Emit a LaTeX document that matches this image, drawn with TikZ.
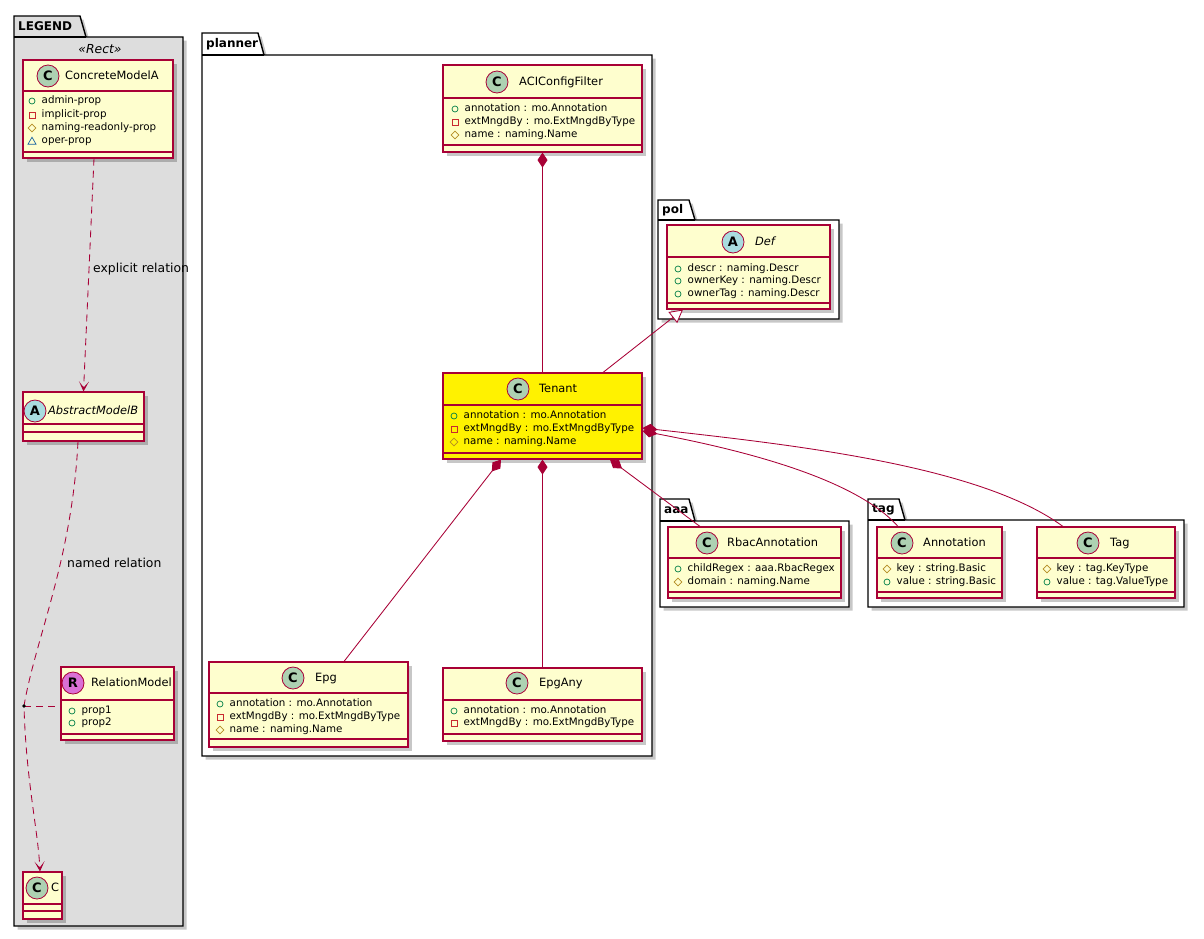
\documentclass[tikz,border=0pt]{standalone}
\usepackage{fontspec}
\setmainfont{DejaVu Sans}
\setmonofont{DejaVu Sans Mono}
\usetikzlibrary{arrows.meta,shadows,fit}
\definecolor{bord}{HTML}{A80036}
\definecolor{clsfill}{HTML}{FEFECE}
\definecolor{cgreen}{HTML}{ADD1B2}
\definecolor{ablue}{HTML}{A9DCDF}
\definecolor{rpink}{HTML}{DA70D6}
\definecolor{pubc}{HTML}{038048}
\definecolor{privc}{HTML}{C82930}
\definecolor{protc}{HTML}{B38D22}
\definecolor{pkgc}{HTML}{1963A0}
\definecolor{legfill}{HTML}{DDDDDD}
\tikzset{
 clsbox/.style={draw=bord, line width=1.1pt, fill=clsfill, inner sep=0pt, rectangle,
   drop shadow={shadow xshift=3.5pt, shadow yshift=-3.5pt, fill=black, opacity=0.22}},
 sepline/.style={draw=bord, line width=1.1pt},
 spot/.style={circle, draw=bord, line width=0.8pt, minimum size=22pt, inner sep=0pt,
   font=\fontsize{13}{13}\selectfont\bfseries},
 cname/.style={anchor=west, inner sep=0pt, text height=8.5pt, text depth=2.5pt,
   font=\fontsize{11.4}{13}\selectfont},
 cnamei/.style={cname, font=\fontsize{11.4}{13}\selectfont\itshape},
 attrtext/.style={anchor=west, inner sep=0pt, text height=7.5pt, text depth=2.2pt,
   font=\fontsize{10.3}{12}\selectfont},
 pkgshape/.style={draw=black, line width=1.4pt,
   drop shadow={shadow xshift=3.5pt, shadow yshift=-3.5pt, fill=black, opacity=0.22}},
 pkglabel/.style={anchor=west, inner sep=0pt, font=\fontsize{12}{14}\selectfont\bfseries},
 rel/.style={draw=bord, line width=0.85pt},
 comp/.style={rel, {Diamond[length=15pt,width=10pt]}-},
 lbl/.style={anchor=west, inner sep=0pt, font=\fontsize{12.4}{14}\selectfont},
 dep/.style={rel, dash pattern=on 7pt off 5pt, -{Stealth[length=10pt,width=10pt,inset=6pt]}},
}
\newcommand{\ucls}[8]{%
  \node[clsbox,#1,fit={(#3,#4) (#5,#6)}] (#2) {};
  \draw[sepline] (#3,#7) -- (#5,#7) (#3,#8) -- (#5,#8);}
\newcommand{\upkg}[9]{%
  \draw[pkgshape, fill=#9] (#2,#5) -- (#2,#3) -- (#4,#3) -- ({#4+6},#5) -- (#6,#5) -- (#6,#7) -- (#2,#7) -- cycle;
  \draw[line width=1.4pt] (#2,#5) -- ({#4+6},#5);
  \node[pkglabel] (#1) at ({#2+4},{(#3+#5)/2}) {#8};}
\newcommand{\uiconpub}[2]{\draw[pubc, line width=0.7pt] (#1,#2) circle (3pt);}
\newcommand{\uiconpriv}[2]{\draw[privc, line width=0.7pt] ({#1-3},{#2-3}) rectangle ({#1+3},{#2+3});}
\newcommand{\uiconprot}[2]{\draw[protc, line width=0.7pt] (#1,{#2-3.8}) -- ({#1+3.8},#2) -- (#1,{#2+3.8}) -- ({#1-3.8},#2) -- cycle;}
\newcommand{\uiconpack}[2]{\draw[pkgc, line width=0.7pt] (#1,{#2-3.8}) -- ({#1+4},{#2+3.2}) -- ({#1-4},{#2+3.2}) -- cycle;}
\newcommand{\uattr}[5]{%
  \csname uicon#1\endcsname{#2}{#3}%
  \node[attrtext] (#4) at ({#2+9.5},#3) {#5};}
\begin{document}
\begin{tikzpicture}[x=1pt,y=-1pt]
\useasboundingbox (0,0) rectangle (1204,938);
% packages
\upkg{legend}{14}{16}{80}{37}{183}{926}{LEGEND}{legfill}
\upkg{planner}{202}{33}{258}{55}{652}{756}{planner}{white}
\upkg{pol}{658}{200}{689}{220}{839}{319}{pol}{white}
\upkg{aaa}{660}{499}{689}{521}{849}{607}{aaa}{white}
\upkg{tagpkg}{868}{499}{899}{520}{1184}{607}{tag}{white}
\node[lbl, anchor=center, font=\fontsize{12.4}{14}\selectfont\itshape] (stereo) at (100,49) {«Rect»};
% legend classes
\ucls{}{conc}{23}{60}{173}{158}{91}{152}
\node[spot, fill=cgreen] (conc-c) at (48,76) {C};
\node[cname] (conc-n) at (65,76) {ConcreteModelA};
\uattr{pub}{32}{101}{conc-a1}{admin-prop}
\uattr{priv}{32}{115}{conc-a2}{implicit-prop}
\uattr{prot}{32}{128}{conc-a3}{naming-readonly-prop}
\uattr{pack}{32}{141}{conc-a4}{oper-prop}
\ucls{}{absb}{23}{392}{144}{441}{424}{432}
\node[spot, fill=ablue] (absb-c) at (35,411) {A};
\node[cnamei] (absb-n) at (48,411) {AbstractModelB};
\ucls{}{relm}{61}{667}{174}{740}{700}{734}
\node[spot, fill=rpink] (relm-c) at (73,683) {R};
\node[cname] (relm-n) at (91,683) {RelationModel};
\uattr{pub}{72}{711}{relm-a1}{prop1}
\uattr{pub}{72}{723}{relm-a2}{prop2}
\ucls{}{cc}{23}{872}{62}{919}{904}{911}
\node[spot, fill=cgreen] (cc-c) at (37,888) {C};
\node[cname] (cc-n) at (51,888) {C};
% planner classes
\ucls{}{aci}{443}{65}{642}{152}{98}{145}
\node[spot, fill=cgreen] (aci-c) at (497,82) {C};
\node[cname] (aci-n) at (519,82) {ACIConfigFilter};
\uattr{pub}{455}{109}{aci-a1}{annotation : mo.Annotation}
\uattr{priv}{455}{122}{aci-a2}{extMngdBy : mo.ExtMngdByType}
\uattr{prot}{455}{135}{aci-a3}{name : naming.Name}
\ucls{fill=yellow}{ten}{443}{373}{642}{459}{405}{453}
\node[spot, fill=cgreen] (ten-c) at (518,389) {C};
\node[cname] (ten-n) at (539,389) {Tenant};
\uattr{pub}{454}{416}{ten-a1}{annotation : mo.Annotation}
\uattr{priv}{454}{429}{ten-a2}{extMngdBy : mo.ExtMngdByType}
\uattr{prot}{454}{442}{ten-a3}{name : naming.Name}
\ucls{}{epg}{209}{662}{408}{747}{693}{739}
\node[spot, fill=cgreen] (epg-c) at (293,678) {C};
\node[cname] (epg-n) at (315,678) {Epg};
\uattr{pub}{220}{704}{epg-a1}{annotation : mo.Annotation}
\uattr{priv}{220}{717}{epg-a2}{extMngdBy : mo.ExtMngdByType}
\uattr{prot}{220}{730}{epg-a3}{name : naming.Name}
\ucls{}{epgany}{443}{668}{642}{741}{700}{734}
\node[spot, fill=cgreen] (epgany-c) at (517,683) {C};
\node[cname] (epgany-n) at (539,683) {EpgAny};
\uattr{pub}{454}{711}{epgany-a1}{annotation : mo.Annotation}
\uattr{priv}{454}{723}{epgany-a2}{extMngdBy : mo.ExtMngdByType}
% pol
\ucls{}{def}{667}{225}{830}{309}{257}{303}
\node[spot, fill=ablue] (def-c) at (733,242) {A};
\node[cnamei] (def-n) at (755,242) {Def};
\uattr{pub}{678}{269}{def-a1}{descr : naming.Descr}
\uattr{pub}{678}{281}{def-a2}{ownerKey : naming.Descr}
\uattr{pub}{678}{294}{def-a3}{ownerTag : naming.Descr}
% aaa
\ucls{}{rbac}{668}{527}{841}{598}{558}{592}
\node[spot, fill=cgreen] (rbac-c) at (707,543) {C};
\node[cname] (rbac-n) at (727,543) {RbacAnnotation};
\uattr{pub}{678}{569}{rbac-a1}{childRegex : aaa.RbacRegex}
\uattr{prot}{678}{582}{rbac-a2}{domain : naming.Name}
% tag
\ucls{}{annot}{877}{527}{1002}{598}{558}{592}
\node[spot, fill=cgreen] (annot-c) at (902,543) {C};
\node[cname] (annot-n) at (923,543) {Annotation};
\uattr{prot}{887}{569}{annot-a1}{key : string.Basic}
\uattr{pub}{887}{582}{annot-a2}{value : string.Basic}
\ucls{}{tagc}{1037}{527}{1175}{598}{558}{592}
\node[spot, fill=cgreen] (tagc-c) at (1088,543) {C};
\node[cname] (tagc-n) at (1110,543) {Tag};
\uattr{prot}{1047}{569}{tagc-a1}{key : tag.KeyType}
\uattr{pub}{1047}{582}{tagc-a2}{value : tag.ValueType}
% connectors
\draw[comp] (aci.south) -- (ten.north);
\draw[rel, -{Triangle[open,length=13pt,width=14pt,fill=white]}] ([xshift=60.5pt]ten.north) -- ([xshift=-65.5pt]def.south);
\draw[comp] ([xshift=-41.5pt]ten.south) -- ([xshift=35.5pt]epg.north);
\draw[comp] (ten.south) -- (epgany.north);
\draw[comp] ([xshift=67.5pt]ten.south) -- ([xshift=-54.5pt]rbac.north);
\draw[comp] ([yshift=-15pt]ten.east) .. controls +(72,14) and +(-48,-54) .. ([xshift=-41.5pt]annot.north);
\draw[comp] ([yshift=-12pt]ten.east) .. controls +(152,17) and +(-83,-61) .. ([xshift=-43pt]tagc.north);
% legend connectors
\coordinate (rdot) at (24,706);
\draw[dep] ([xshift=-4pt]conc.south) -- (absb.north);
\node[lbl] (lbl-exp) at (93,269) {explicit relation};
\draw[dep] ([xshift=-5.5pt]absb.south) .. controls (72,560) and (35,640) .. (rdot) .. controls (26,780) and (38,830) .. ([xshift=-2.5pt]cc.north);
\draw[rel, dash pattern=on 7pt off 5pt] (rdot) -- (relm.west |- rdot);
\fill[black] (rdot) circle (1.8pt);
\node[lbl] (lbl-named) at (67,563) {named relation};
\end{tikzpicture}
\end{document}
